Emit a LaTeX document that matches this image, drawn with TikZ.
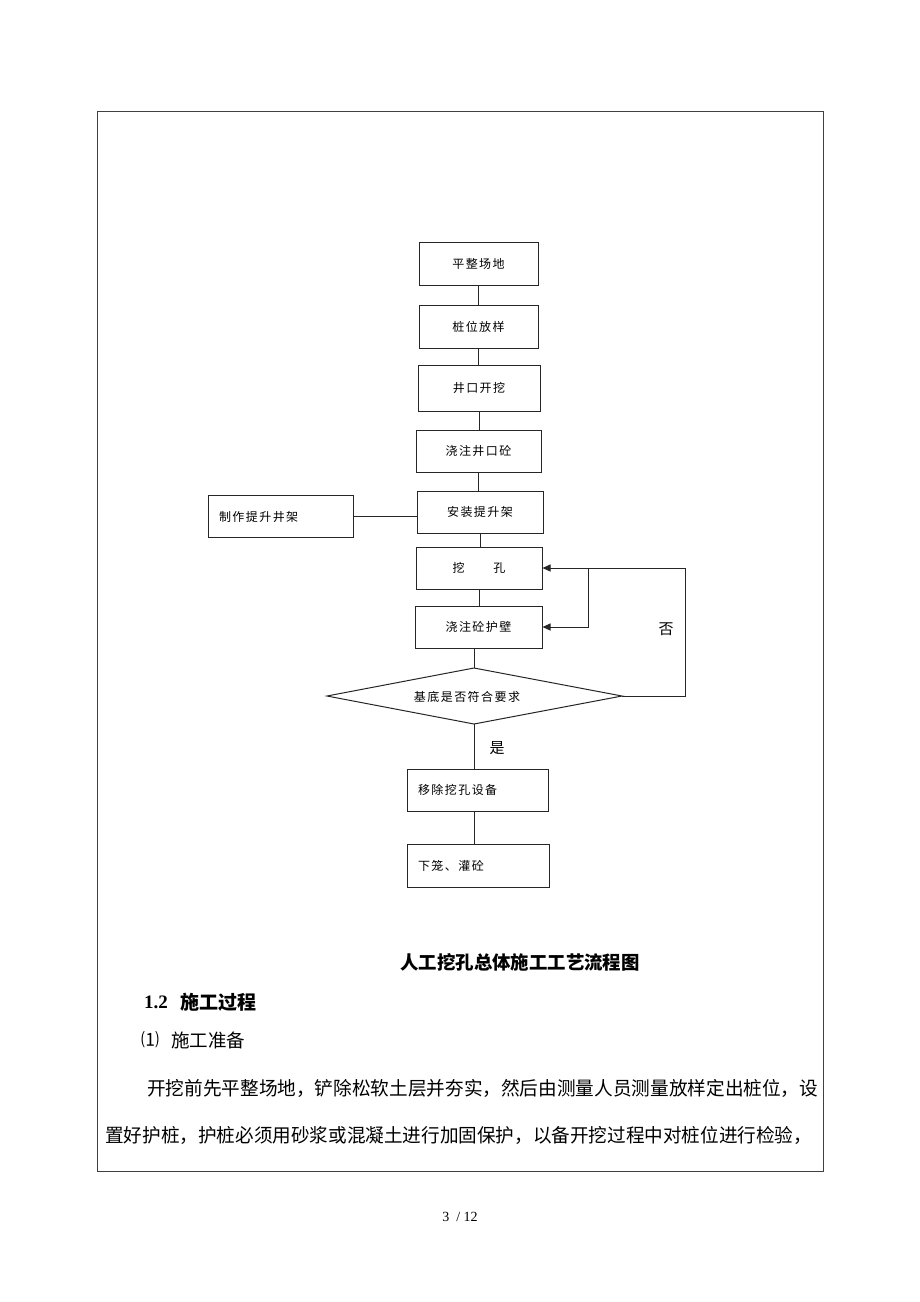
\documentclass[tikz,border=0pt]{standalone}
\usepackage{fontspec}
\setmainfont{Liberation Serif}
\newfontfamily\cjk{Noto Sans CJK SC}
\newfontfamily\cjkls[LetterSpace=12]{Noto Sans CJK SC}
\usetikzlibrary{arrows.meta}
\begin{document}
\begin{tikzpicture}[x=1pt,y=-1pt,
  box/.style={draw=black!85, line width=1pt, inner sep=0pt, align=center,
    font=\cjkls\fontsize{12}{14}\selectfont},
  lbox/.style={box, align=left, inner xsep=11pt},
  conn/.style={draw=black!85, line width=1pt},
  arr/.style={conn, -{Triangle[length=8pt,width=7pt]}},
  lbl/.style={inner sep=0pt, font=\cjk\fontsize{15}{17}\selectfont},
  body/.style={inner sep=0pt, anchor=west, font=\cjk\fontsize{19}{22}\selectfont}]
\useasboundingbox (0,0) rectangle (920,1302);
\fill[white] (0,0) rectangle (920,1302);
% frame
\draw[black!75, line width=1pt] (97,111) rectangle (823,1171);

% boxes
\node[box, minimum width=119pt, minimum height=43pt] (b1) at (478.5,264) {平整场地};
\node[box, minimum width=119pt, minimum height=43pt] (b2) at (478.5,326.5) {桩位放样};
\node[box, minimum width=122pt, minimum height=46pt] (b3) at (479,388) {井口开挖};
\node[box, minimum width=125pt, minimum height=42pt] (b4) at (478.5,451) {浇注井口砼};
\node[box, minimum width=126pt, minimum height=42pt] (b5) at (480,512) {安装提升架};
\node[lbox, text width=123pt, minimum height=42pt] (b0) at (280.5,516.5) {制作提升井架};
\node[box, minimum width=126pt, minimum height=42pt] (b6) at (479,568) {挖\hspace{2.4em}孔};
\node[box, minimum width=127pt, minimum height=42pt] (b7) at (478.5,627) {浇注砼护壁};
\node[lbox, text width=119pt, minimum height=42pt] (b8) at (477.5,790) {移除挖孔设备};
\node[lbox, text width=120pt, minimum height=43pt] (b9) at (478,865.5) {下笼、灌砼};

% diamond
\coordinate (dL) at (327,696);
\coordinate (dT) at (474,668);
\coordinate (dR) at (622,696);
\coordinate (dB) at (474,724);
\draw[conn] (dL) -- (dT) -- (dR) -- (dB) -- cycle;
\node[inner sep=0pt, font=\cjkls\fontsize{12}{14}\selectfont] (dt) at (467,697) {基底是否符合要求};

% connectors
\draw[conn] (b1.south) -- (b1.south |- b2.north);
\draw[conn] (b2.south) -- (b2.south |- b3.north);
\draw[conn] (b3.south) -- (b3.south |- b4.north);
\draw[conn] (b4.south) -- (b4.south |- b5.north);
\draw[conn] (b5.south) -- (b5.south |- b6.north);
\draw[conn] (b6.south) -- (b6.south |- b7.north);
\draw[conn] (b0.east) -- (b0.east -| b5.west);
\draw[conn] (b7.south -| dT) -- (dT);
\draw[conn] (dB) -- (dB |- b8.north);
\draw[conn] (b8.south -| dB) -- (dB |- b9.north);

% loop
\coordinate (lp) at (685,568);
\coordinate (br) at (588,568);
\draw[arr] (dR) -| (lp) -- (b6.east);
\draw[arr] (br) |- (b7.east);

\node[lbl] (no) at (666,629) {否};
\node[lbl] (yes) at (497,748) {是};

% texts
\node[inner sep=0pt, font=\cjk\bfseries\fontsize{18.4}{22}\selectfont] (cap) at (520,962) {人工挖孔总体施工工艺流程图};
\node[body, font=\bfseries\fontsize{19}{22}\selectfont] (h1a) at (144,1002) {1.2};
\node[body, font=\cjk\bfseries\fontsize{19}{22}\selectfont] (h1b) at (180,1002) {施工过程};
\node[body, font=\cjk\fontsize{18}{22}\selectfont] (h2a) at (141,1040) {⑴};
\node[body, font=\cjk\fontsize{18.5}{22}\selectfont] (h2b) at (171,1040) {施工准备};
\node[body] (p1) at (147,1088) {\resizebox{671pt}{\height}{开挖前先平整场地，铲除松软土层并夯实，然后由测量人员测量放样定出桩位，设}};
\node[body] (p2) at (105,1135) {\resizebox{707pt}{\height}{置好护桩，护桩必须用砂浆或混凝土进行加固保护，以备开挖过程中对桩位进行检验，}};
\node[inner sep=0pt, font=\fontsize{14}{16}\selectfont] (pg) at (460,1217) {3\ \ / 12};
\end{tikzpicture}
\end{document}
